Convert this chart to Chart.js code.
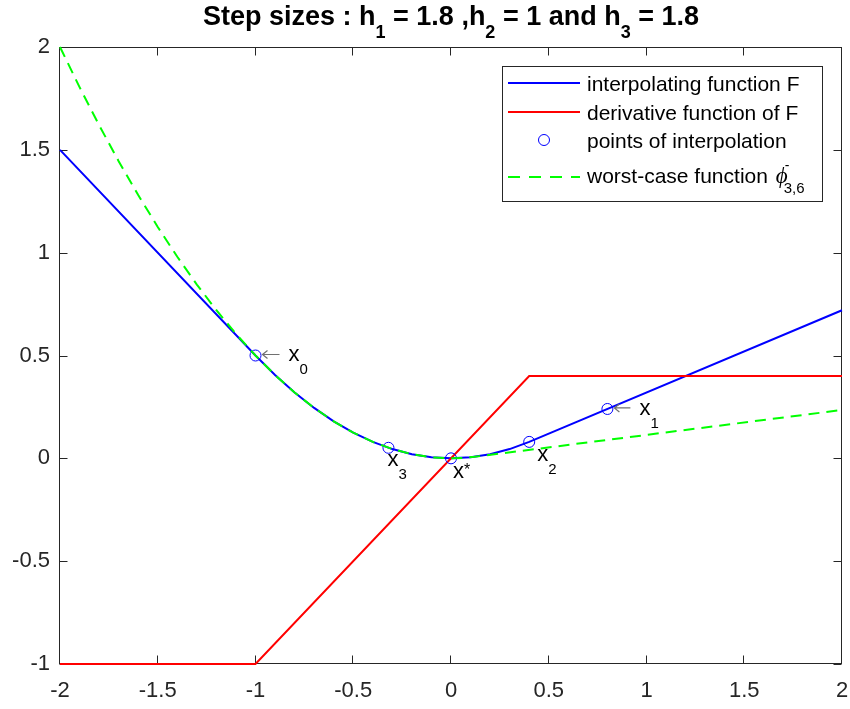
<!DOCTYPE html>
<html>
<head>
<meta charset="utf-8">
<script src="https://cdn.jsdelivr.net/npm/chart.js@4/dist/chart.umd.min.js"></script>
<style>
  html, body { margin: 0; padding: 0; background: #fff; }
  canvas { display: block; }
</style>
</head>
<body>
<canvas id="c" width="850" height="709" style="width:850px;height:709px"></canvas>
<script>
// ---- data ----
const xTicks = [-2, -1.5, -1, -0.5, 0, 0.5, 1, 1.5, 2];
const xTickLabels = ['-2', '-1.5', '-1', '-0.5', '0', '0.5', '1', '1.5', '2'];
const yTicks = [-1, -0.5, 0, 0.5, 1, 1.5, 2];
const yTickLabels = ['-1', '-0.5', '0', '0.5', '1', '1.5', '2'];

// interpolating function F
const fX = [-2, -1, -0.9, -0.8, -0.7, -0.6, -0.5, -0.4, -0.3, -0.2, -0.1, 0, 0.1, 0.2, 0.3, 0.4, 2];
const fY = [1.5, 0.5, 0.405, 0.32, 0.245, 0.18, 0.125, 0.08, 0.045, 0.02, 0.005, 0, 0.005, 0.02, 0.045, 0.08, 0.72];

// derivative of F
const dX = [-2, -1, 0.4, 2];
const dY = [-1, -1, 0.4, 0.4];

// interpolation points
const pX = [-1, 0.8, 0.4, -0.32, 0];
const pY = [0.5, 0.24, 0.08, 0.0512, 0];
const pNames = ['x0', 'x1', 'x2', 'x3', 'x*'];

// worst-case function
const gX = [-2, -1.9, -1.8, -1.7, -1.6, -1.5, -1.4, -1.3, -1.2, -1.1, -1, -0.9, -0.8, -0.7, -0.6, -0.5, -0.4, -0.3, -0.2, -0.1, 0, 0.06, 0.12, 2];
const gY = [2, 1.805, 1.62, 1.445, 1.28, 1.125, 0.98, 0.845, 0.72, 0.605, 0.5, 0.405, 0.32, 0.245, 0.18, 0.125, 0.08, 0.045, 0.02, 0.005, 0, 0.0018, 0.0072, 0.235];

const legendLabels = ['interpolating function F', 'derivative function of F', 'points of interpolation', 'worst-case function '];

// ---- helpers ----
const FAM = '"Liberation Sans", Arial, Helvetica, sans-serif';
const AXIS = '#262626';
const zip = (xs, ys) => xs.map((x, i) => ({ x: x, y: ys[i] }));

function drawRuns(ctx, runs, x, y, align) {
  let total = 0;
  runs.forEach(r => { ctx.font = r.font; r.w = ctx.measureText(r.text).width; total += r.w + (r.gap || 0); });
  let cx = align === 'center' ? x - total / 2 : x;
  runs.forEach(r => {
    ctx.font = r.font;
    ctx.fillText(r.text, cx, y + (r.dy || 0));
    cx += r.w + (r.gap || 0);
  });
  return x + total;
}

// label placement around each interpolation point
const labelPlace = {
  'x0': { dx: 33, dy: 5, arrow: true },
  'x1': { dx: 32, dy: 6, arrow: true },
  'x2': { dx: 8, dy: 19, arrow: false },
  'x3': { dx: -1, dy: 18, arrow: false },
  'x*': { dx: 2, dy: 20, arrow: false }
};

const framePlugin = {
  id: 'frame',
  beforeDatasetsDraw(chart) {
    const { ctx, chartArea: a, scales } = chart;
    ctx.save();
    ctx.strokeStyle = AXIS;
    ctx.lineWidth = 1;
    const L = Math.round(a.left) - 0.5, R = Math.round(a.right) - 0.5;
    const T = Math.round(a.top) + 0.5, B = Math.round(a.bottom) - 0.5;
    ctx.strokeRect(L, T, R - L, B - T);
    const tl = 8;
    ctx.beginPath();
    xTicks.forEach(v => {
      const px = Math.round(scales.x.getPixelForValue(v)) - 0.5;
      ctx.moveTo(px, B); ctx.lineTo(px, B - tl);
      ctx.moveTo(px, T); ctx.lineTo(px, T + tl);
    });
    yTicks.forEach(v => {
      const py = Math.round(scales.y.getPixelForValue(v)) + 0.5;
      ctx.moveTo(L, py); ctx.lineTo(L + tl, py);
      ctx.moveTo(R, py); ctx.lineTo(R - tl, py);
    });
    ctx.stroke();
    ctx.restore();
  },
  afterDraw(chart) {
    const { ctx, chartArea: a, scales } = chart;
    ctx.save();

    // title
    ctx.fillStyle = '#000';
    ctx.textBaseline = 'alphabetic';
    const tb = 'bold 27px ' + FAM, ts = 'bold 18px ' + FAM;
    drawRuns(ctx, [
      { text: 'Step sizes : h', font: tb },
      { text: '1', font: ts, dy: 13 },
      { text: ' = 1.8 ,h', font: tb },
      { text: '2', font: ts, dy: 13 },
      { text: ' = 1 and h', font: tb },
      { text: '3', font: ts, dy: 13 },
      { text: ' = 1.8', font: tb }
    ], (a.left + a.right) / 2, 25, 'center');

    // point labels
    const lf = '22px ' + FAM, sf = '15px ' + FAM;
    pNames.forEach((name, i) => {
      const px = scales.x.getPixelForValue(pX[i]);
      const py = scales.y.getPixelForValue(pY[i]);
      const pl = labelPlace[name];
      if (pl.arrow) {
        ctx.strokeStyle = '#707070';
        ctx.lineWidth = 1.2;
        const y0 = py - 1;
        ctx.beginPath();
        ctx.moveTo(px + pl.dx - 9, y0);
        ctx.lineTo(px + 7, y0);
        ctx.moveTo(px + 12, y0 - 4);
        ctx.lineTo(px + 7, y0);
        ctx.lineTo(px + 12, y0 + 4);
        ctx.stroke();
      }
      ctx.fillStyle = '#000';
      const main = name.charAt(0), rest = name.slice(1);
      const isSup = rest === '*';
      drawRuns(ctx, [
        { text: main, font: lf },
        { text: rest, font: isSup ? '16px ' + FAM : sf, dy: isSup ? -3 : 13 }
      ], px + pl.dx, py + pl.dy, 'left');
    });

    // legend
    const bx = 502.5, by = 66.5, bw = 320, bh = 135;
    ctx.fillStyle = '#fff';
    ctx.fillRect(bx, by, bw, bh);
    ctx.strokeStyle = AXIS;
    ctx.lineWidth = 1;
    ctx.strokeRect(bx, by, bw, bh);
    const rows = [83, 112, 140, 177];
    const x1 = 508, x2 = 580, tx = 587;
    ctx.lineWidth = 2;
    ctx.strokeStyle = '#0000ff';
    ctx.beginPath(); ctx.moveTo(x1, rows[0]); ctx.lineTo(x2, rows[0]); ctx.stroke();
    ctx.strokeStyle = '#ff0000';
    ctx.beginPath(); ctx.moveTo(x1, rows[1]); ctx.lineTo(x2, rows[1]); ctx.stroke();
    ctx.lineWidth = 1;
    ctx.strokeStyle = '#0000ff';
    ctx.beginPath(); ctx.arc((x1 + x2) / 2, rows[2], 5.5, 0, Math.PI * 2); ctx.stroke();
    ctx.lineWidth = 2;
    ctx.strokeStyle = '#00ff00';
    ctx.setLineDash([12, 9]);
    ctx.beginPath(); ctx.moveTo(x1, rows[3]); ctx.lineTo(x2, rows[3]); ctx.stroke();
    ctx.setLineDash([]);

    ctx.fillStyle = '#000';
    const gf = '21px ' + FAM;
    ctx.font = gf;
    ctx.fillText(legendLabels[0], tx, rows[0] + 8);
    ctx.fillText(legendLabels[1], tx, rows[1] + 8);
    ctx.fillText(legendLabels[2], tx, rows[2] + 8);
    ctx.fillText(legendLabels[3], tx, rows[3] + 6);
    const phiX = tx + ctx.measureText(legendLabels[3]).width + 2;
    ctx.font = 'italic 23px "Liberation Serif", "DejaVu Serif", serif';
    ctx.fillText('\u03D5', phiX, rows[3] + 6);
    const phiW = ctx.measureText('\u03D5').width;
    // bar above and index below
    ctx.font = '14px ' + FAM;
    ctx.fillText('-', phiX + phiW - 3, rows[3] - 7);
    ctx.font = '15px ' + FAM;
    ctx.fillText('3,6', phiX + phiW - 4, rows[3] + 16);

    ctx.restore();
  }
};

const lineDs = (data, color, extra) => Object.assign({
  data: data,
  showLine: true,
  borderColor: color,
  backgroundColor: color,
  borderWidth: 2,
  pointRadius: 0,
  pointHoverRadius: 0,
  tension: 0,
  clip: false
}, extra || {});

new Chart(document.getElementById('c'), {
  type: 'scatter',
  data: {
    datasets: [
      lineDs(zip(gX, gY), '#00ff00', { borderDash: [11, 7], order: 1 }),
      {
        data: zip(pX, pY),
        showLine: false,
        pointStyle: 'circle',
        pointRadius: 5.5,
        pointBorderWidth: 1,
        borderColor: '#0000ff',
        pointBorderColor: '#0000ff',
        backgroundColor: 'rgba(0,0,0,0)',
        pointBackgroundColor: 'rgba(0,0,0,0)',
        clip: false,
        order: 2
      },
      lineDs(zip(dX, dY), '#ff0000', { order: 3 }),
      lineDs(zip(fX, fY), '#0000ff', { order: 4 })
    ]
  },
  options: {
    responsive: false,
    animation: false,
    events: [],
    layout: { autoPadding: false, padding: { left: 0, top: 47, right: 8, bottom: 0 } },
    plugins: { legend: { display: false }, tooltip: { enabled: false }, title: { display: false } },
    scales: {
      x: {
        type: 'linear', min: -2, max: 2,
        grid: { display: false, drawTicks: false },
        border: { display: false },
        afterBuildTicks: s => { s.ticks = xTicks.map(v => ({ value: v })); },
        afterFit: s => { s.height = 45; s.paddingLeft = 0; s.paddingRight = 0; },
        ticks: {
          padding: 14,
          color: AXIS,
          font: { family: FAM, size: 22 },
          maxRotation: 0,
          callback: (v) => xTickLabels[xTicks.indexOf(v)]
        }
      },
      y: {
        type: 'linear', min: -1, max: 2,
        grid: { display: false, drawTicks: false },
        border: { display: false },
        afterBuildTicks: s => { s.ticks = yTicks.map(v => ({ value: v })); },
        afterFit: s => { s.width = 60; s.paddingTop = 0; s.paddingBottom = 0; },
        ticks: {
          padding: 10,
          color: AXIS,
          font: { family: FAM, size: 22 },
          callback: (v) => yTickLabels[yTicks.indexOf(v)]
        }
      }
    }
  },
  plugins: [framePlugin]
});
</script>
</body>
</html>
